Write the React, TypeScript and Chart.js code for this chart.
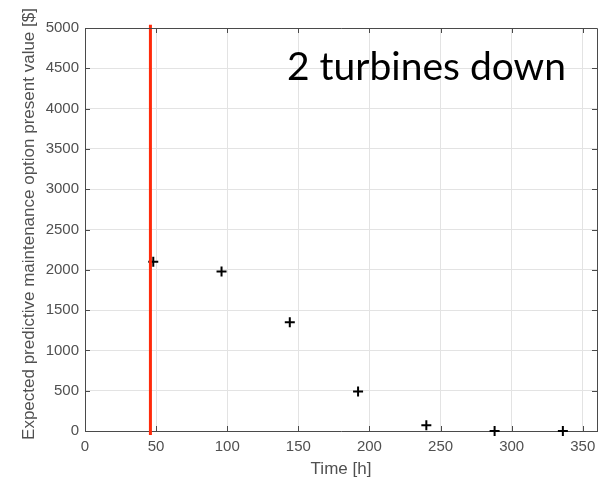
import React, { useEffect, useRef } from "react";
import { Chart, registerables } from "chart.js";

Chart.register(...registerables);

const times = [48, 96, 144, 192, 240, 288, 336];
const values = [2100, 1980, 1350, 490, 70, 0, 0];
const decisionTime = 46;
const xTicks = [0, 50, 100, 150, 200, 250, 300, 350];
const yTicks = [0, 500, 1000, 1500, 2000, 2500, 3000, 3500, 4000, 4500, 5000];
const annotationText = "2 turbines down";
const xTitle = "Time [h]";
const yTitle = "Expected predictive maintenance option present value [$]";

const boxPlugin = {
  id: "matlabBox",
  afterDraw(chart: any) {
    const { ctx, chartArea } = chart;
    const { left, right, top, bottom } = chartArea;
    const xs = chart.scales.x;
    const ys = chart.scales.y;
    ctx.save();
    ctx.strokeStyle = "#4a4a4a";
    ctx.lineWidth = 1;
    ctx.beginPath();
    ctx.moveTo(left, top + 0.5);
    ctx.lineTo(right + 0.5, top + 0.5);
    ctx.lineTo(right + 0.5, bottom);
    ctx.stroke();
    const tl = 5;
    ctx.beginPath();
    xTicks.forEach((v) => {
      const px = Math.round(xs.getPixelForValue(v)) + 0.5;
      ctx.moveTo(px, bottom);
      ctx.lineTo(px, bottom - tl);
      ctx.moveTo(px, top);
      ctx.lineTo(px, top + tl);
    });
    yTicks.forEach((v) => {
      const py = Math.round(ys.getPixelForValue(v)) + 0.5;
      ctx.moveTo(left, py);
      ctx.lineTo(left + tl, py);
      ctx.moveTo(right, py);
      ctx.lineTo(right - tl, py);
    });
    ctx.stroke();

    // axis titles
    ctx.fillStyle = "#505050";
    ctx.font = "17px 'Liberation Sans'";
    ctx.textAlign = "center";
    ctx.textBaseline = "middle";
    ctx.fillText(xTitle, (left + right) / 2, bottom + 38);
    ctx.save();
    ctx.translate(left - 56, top + 196);
    ctx.rotate(-Math.PI / 2);
    ctx.fillText(yTitle, 0, 0);
    ctx.restore();

    ctx.fillStyle = "#000";
    ctx.font = "39px Lato";
    ctx.textBaseline = "alphabetic";
    ctx.textAlign = "left";
    ctx.fillText(annotationText, left + 202, top + 52);
    ctx.restore();
  },
};

export default function App() {
  const ref = useRef<HTMLCanvasElement>(null);
  useEffect(() => {
    const chart = new Chart(ref.current!, {
      type: "scatter",
      data: {
        datasets: [
          {
            type: "line",
            data: [
              { x: decisionTime, y: -50 },
              { x: decisionTime, y: 5040 },
            ],
            borderColor: "#ff2a0a",
            borderWidth: 3,
            pointRadius: 0,
            clip: false as any,
          },
          {
            data: times.map((t, i) => ({ x: t, y: values[i] })),
            pointStyle: "cross",
            pointRadius: 5,
            borderColor: "#000",
            backgroundColor: "#000",
            borderWidth: 2,
            clip: false as any,
          },
        ],
      },
      options: {
        animation: false,
        responsive: false,
        layout: { padding: { top: 28, right: 9, left: 0, bottom: 0 } },
        plugins: { legend: { display: false }, tooltip: { enabled: false } },
        scales: {
          x: {
            type: "linear",
            min: 0,
            max: 360,
            afterBuildTicks: (s: any) => {
              s.ticks = xTicks.map((v) => ({ value: v }));
            },
            afterFit: (s: any) => {
              s.height = 48;
            },
            grid: { color: "#e3e3e3", drawTicks: false },
            border: { display: true, color: "#4a4a4a" },
            ticks: {
              padding: 7,
              color: "#505050",
              font: { family: "Liberation Sans", size: 15 },
              callback: (v: any) => String(v),
            },
          },
          y: {
            min: 0,
            max: 5000,
            afterBuildTicks: (s: any) => {
              s.ticks = yTicks.map((v) => ({ value: v }));
            },
            afterFit: (s: any) => {
              s.width = 85;
            },
            grid: { color: "#e3e3e3", drawTicks: false },
            border: { display: true, color: "#4a4a4a" },
            ticks: {
              padding: 6,
              color: "#505050",
              font: { family: "Liberation Sans", size: 15 },
              callback: (v: any) => String(v),
            },
          },
        },
      },
      plugins: [boxPlugin],
    });
    return () => chart.destroy();
  }, []);
  return (
    <div style={{ position: "fixed", left: 0, top: 0, width: 606, height: 479, background: "#fff" }}>
      <canvas ref={ref} width={606} height={479} />
    </div>
  );
}
